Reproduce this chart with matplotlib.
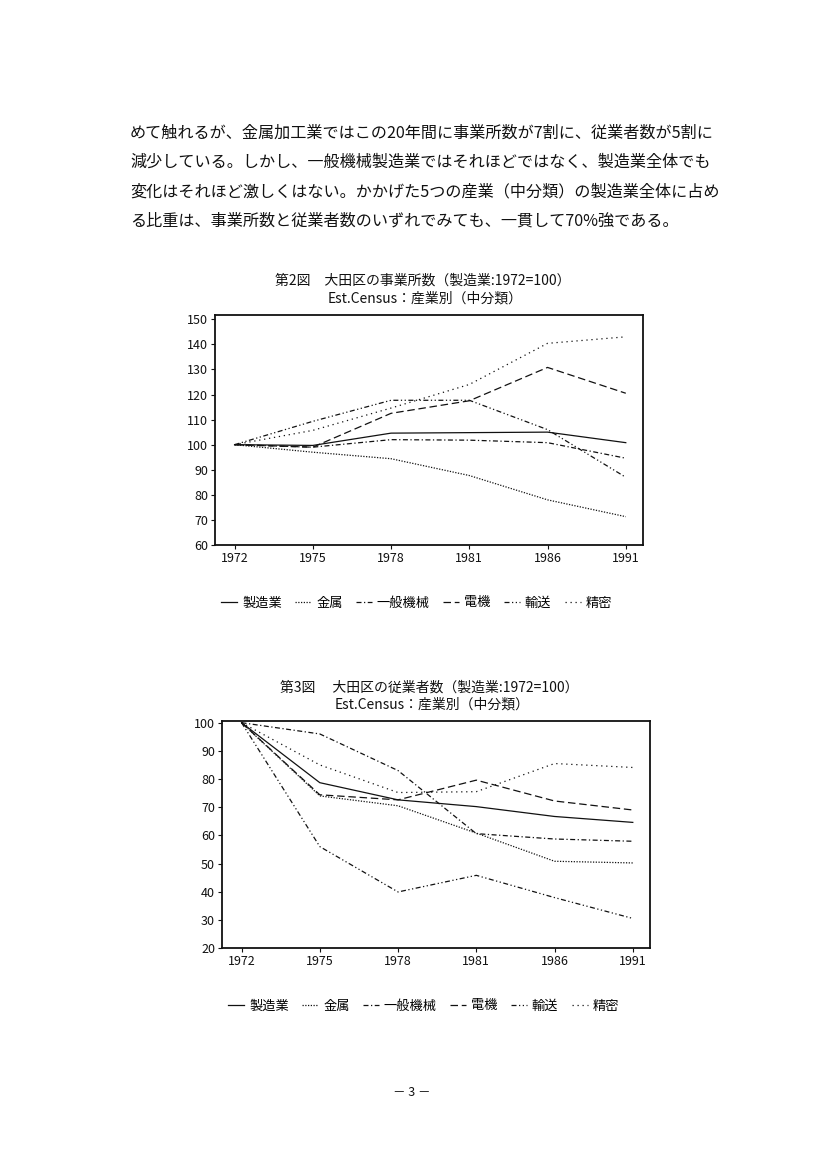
import matplotlib
matplotlib.use("Agg")
import matplotlib.pyplot as plt
from matplotlib.lines import Line2D

plt.rcParams["font.family"] = ["Noto Sans CJK JP", "DejaVu Sans"]

INK = "#111111"

# ── data ──────────────────────────────────────────────────────────────────
years = ["1972", "1975", "1978", "1981", "1986", "1991"]
series_names = ["製造業", "金属", "一般機械", "電機", "輸送", "精密"]

# 第2図 事業所数 (1972=100)
est_seizo    = [100, 99.7, 104.6, 104.8, 105.0, 100.8]
est_kinzoku  = [100, 97.0, 94.4, 87.7, 78.0, 71.3]
est_ippan    = [100, 99.0, 102.0, 101.8, 100.8, 94.6]
est_denki    = [100, 99.0, 112.5, 117.5, 130.8, 120.5]
est_yuso     = [100, 109.3, 117.7, 117.7, 106.0, 87.0]
est_seimitsu = [100, 105.7, 114.6, 124.0, 140.4, 143.0]

# 第3図 従業者数 (1972=100)
emp_seizo    = [100, 78.7, 72.6, 70.2, 66.7, 64.6]
emp_kinzoku  = [100, 74.0, 70.5, 60.8, 50.8, 50.2]
emp_ippan    = [100, 96.0, 83.0, 60.6, 58.7, 57.9]
emp_denki    = [100, 74.4, 72.6, 79.6, 72.2, 69.0]
emp_yuso     = [100, 56.0, 39.9, 45.8, 37.9, 30.5]
emp_seimitsu = [100, 85.0, 75.2, 75.5, 85.5, 84.1]

body_lines = [
    "めて触れるが、金属加工業ではこの20年間に事業所数が7割に、従業者数が5割に",
    "減少している。しかし、一般機械製造業ではそれほどではなく、製造業全体でも",
    "変化はそれほど激しくはない。かかげた5つの産業（中分類）の製造業全体に占め",
    "る比重は、事業所数と従業者数のいずれでみても、一貫して70%強である。",
]

styles = [
    "-",
    (0, (1, 1.2)),
    (0, (4, 2, 1, 2)),
    (0, (6, 3)),
    (0, (4, 2, 1, 2, 1, 2)),
    (0, (1, 3)),
]

fig = plt.figure(figsize=(8.27, 11.70), dpi=100)
fig.patch.set_facecolor("white")

# ── body text ─────────────────────────────────────────────────────────────
for i, line in enumerate(body_lines):
    fig.text(130 / 827, 1 - (133 + i * 29.5) / 1170, line,
             ha="left", va="center", fontsize=11.6, color=INK)


def draw_chart(rect, data, ylim, yticks, title1, title2, title_y, legend_y):
    ax = fig.add_axes(rect)
    x = list(range(len(years)))
    for vals, ls in zip(data, styles):
        ax.plot(x, vals, color=INK, linewidth=0.9, linestyle=ls)
    ax.set_xlim(-0.25, 5.22)
    ax.set_ylim(*ylim)
    ax.set_xticks(x)
    ax.set_xticklabels(years)
    ax.set_yticks(yticks)
    ax.tick_params(direction="out", length=3, width=0.8, labelsize=9,
                   colors=INK, pad=2)
    for spine in ax.spines.values():
        spine.set_linewidth(1.3)
        spine.set_color(INK)

    cx = (rect[0] + rect[2] / 2)
    fig.text(cx - 0.008, title_y, title1, ha="center", va="center",
             fontsize=10, color=INK)
    fig.text(cx - 0.005, title_y - 17 / 1170, title2, ha="center",
             va="center", fontsize=10, color=INK)

    handles = [Line2D([], [], color=INK, linewidth=0.9, linestyle=ls)
               for ls in styles]
    fig.legend(handles, series_names, loc="center",
               bbox_to_anchor=(cx - 0.015, legend_y), ncol=6, frameon=False,
               fontsize=9.5, handlelength=1.2, handletextpad=0.4,
               columnspacing=1.0)
    return ax


draw_chart([215 / 827, 1 - 545 / 1170, 428 / 827, 230 / 1170],
           [est_seizo, est_kinzoku, est_ippan, est_denki, est_yuso,
            est_seimitsu],
           (60, 151.7), range(60, 151, 10),
           "第2図　大田区の事業所数（製造業:1972=100）",
           "Est.Census：産業別（中分類）",
           1 - 281 / 1170, 1 - 603 / 1170)

draw_chart([222 / 827, 1 - 948 / 1170, 428 / 827, 227 / 1170],
           [emp_seizo, emp_kinzoku, emp_ippan, emp_denki, emp_yuso,
            emp_seimitsu],
           (20, 100.6), range(20, 101, 10),
           "第3図　 大田区の従業者数（製造業:1972=100）",
           "Est.Census：産業別（中分類）",
           1 - 688 / 1170, 1 - 1006 / 1170)

fig.text(412 / 827, 1 - 1093 / 1170, "－ 3 －", ha="center", va="center",
         fontsize=9, color=INK)

fig.savefig("out.png", dpi=100, facecolor="white")
